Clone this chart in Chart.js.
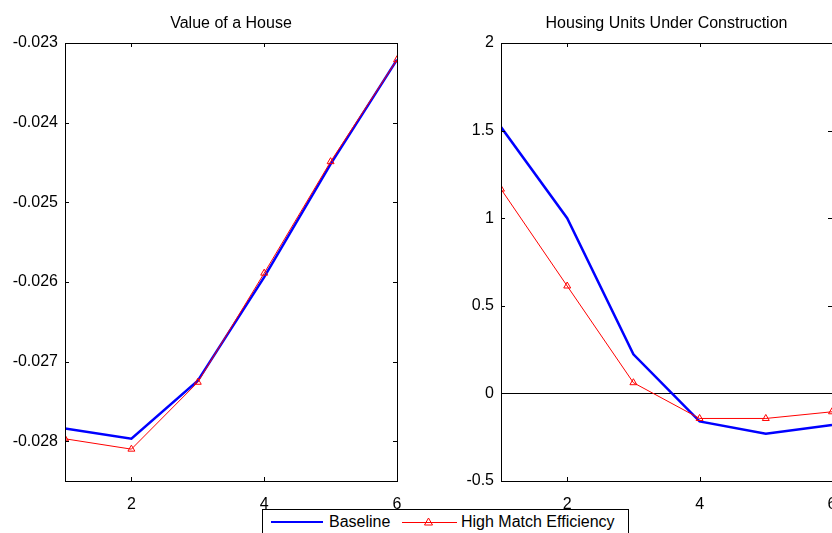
<!DOCTYPE html>
<html>
<head>
<meta charset="utf-8">
<script src="https://cdn.jsdelivr.net/npm/chart.js@4"></script>
<style>
html, body { margin: 0; padding: 0; background: #fff; width: 832px; height: 533px; overflow: hidden; position: relative; font-family: "Liberation Sans", Arial, sans-serif; }
#houseChart { position: absolute; left: 0; top: 0; }
#unitsChart { position: absolute; left: 430px; top: 0; }
#legend { position: absolute; left: 262px; top: 509px; width: 365px; height: 40px; border: 1px solid #000; background: #fff; font-size: 16px; color: #000; }
#legend svg, #legend span { position: absolute; }
#legend span { line-height: 20px; top: 2px; white-space: nowrap; }
</style>
</head>
<body>
<canvas id="houseChart" width="462" height="533"></canvas>
<canvas id="unitsChart" width="472" height="533"></canvas>
<div id="legend">
    <svg style="left:8px; top:7px" width="52" height="10"><line x1="0" y1="5" x2="52" y2="5" stroke="#0000ff" stroke-width="2"/></svg>
    <span style="left:66px">Baseline</span>
    <svg style="left:139px; top:5px" width="55" height="14"><line x1="0" y1="7.5" x2="55" y2="7.5" stroke="#ff0000" stroke-width="1"/><polygon points="26.5,3 30.5,10 22.5,10" fill="none" stroke="#ff0000" stroke-width="1"/></svg>
    <span style="left:198px">High Match Efficiency</span>
</div>
<script>
// periods after the shock
const periods = [1, 2, 3, 4, 5, 6];
const xTicks = [2, 4, 6];

// Value of a House
const houseBaseline = [-0.02784, -0.02797, -0.02724, -0.02594, -0.02452, -0.02321];
const houseHighMatch = [-0.02797, -0.02810, -0.02726, -0.02589, -0.02449, -0.02321];
const houseTicks = [-0.028, -0.027, -0.026, -0.025, -0.024, -0.023];

// Housing Units Under Construction
const unitsBaseline = [1.52, 1.00, 0.223, -0.16, -0.23, -0.18];
const unitsHighMatch = [1.166, 0.613, 0.061, -0.143, -0.143, -0.105];
const unitsTicks = [-0.5, 0, 0.5, 1, 1.5, 2];

Chart.defaults.font.family = '"Liberation Sans", Arial, sans-serif';
Chart.defaults.font.size = 16;
Chart.defaults.color = '#000';

const toPoints = (vals) => vals.map((v, i) => ({ x: periods[i], y: v }));

// matlab style box with inward ticks on all four sides, title centred over the axes
const boxTicks = {
    id: 'boxTicks',
    afterDraw(chart, args, opts) {
        const { ctx, chartArea: a, scales: { x, y } } = chart;
        const len = 4;
        ctx.save();
        ctx.strokeStyle = '#000';
        ctx.lineWidth = 1;
        ctx.beginPath();
        x.ticks.forEach((t) => {
            const px = Math.round(x.getPixelForValue(t.value)) + 0.5;
            ctx.moveTo(px, a.bottom); ctx.lineTo(px, a.bottom - len);
            ctx.moveTo(px, a.top); ctx.lineTo(px, a.top + len);
        });
        y.ticks.forEach((t) => {
            const py = Math.round(y.getPixelForValue(t.value)) + 0.5;
            ctx.moveTo(a.left, py); ctx.lineTo(a.left + len, py);
            ctx.moveTo(a.right, py); ctx.lineTo(a.right - len, py);
        });
        ctx.stroke();
        ctx.strokeRect(Math.round(a.left) + 0.5, Math.round(a.top) + 0.5,
            Math.round(a.right - a.left), Math.round(a.bottom - a.top));

        ctx.fillStyle = '#000';
        ctx.font = '16px "Liberation Sans", Arial, sans-serif';
        ctx.textAlign = 'center';
        ctx.textBaseline = 'middle';
        ctx.fillText(opts.text, (a.left + a.right) / 2, a.top - 19);
        ctx.restore();
    }
};

function makeChart(canvasId, title, baseline, highMatch, yMin, yMax, yTicks, yWidth, padRight, fmt, zeroLine) {
    return new Chart(document.getElementById(canvasId), {
        type: 'line',
        data: {
            datasets: [
                {
                    label: 'High Match Efficiency',
                    data: toPoints(highMatch),
                    borderColor: '#ff0000',
                    borderWidth: 1,
                    pointStyle: 'triangle',
                    pointRadius: 4,
                    pointBorderColor: '#ff0000',
                    pointBackgroundColor: 'rgba(0,0,0,0)',
                    pointBorderWidth: 1,
                    tension: 0,
                    order: 0
                },
                {
                    label: 'Baseline',
                    data: toPoints(baseline),
                    borderColor: '#0000ff',
                    borderWidth: 2.5,
                    pointRadius: 0,
                    tension: 0,
                    order: 1
                }
            ]
        },
        options: {
            responsive: false,
            animation: false,
            layout: { padding: { left: 0, right: padRight, top: 43, bottom: 0 } },
            plugins: {
                legend: { display: false },
                tooltip: { enabled: false },
                title: { display: false },
                boxTicks: { text: title }
            },
            scales: {
                x: {
                    type: 'linear',
                    min: 1,
                    max: 6,
                    afterBuildTicks: (s) => { s.ticks = xTicks.map((v) => ({ value: v })); },
                    afterFit: (s) => { s.height = 52; },
                    ticks: { padding: 6, maxRotation: 0, autoSkip: false },
                    grid: { display: false },
                    border: { display: false }
                },
                y: {
                    type: 'linear',
                    min: yMin,
                    max: yMax,
                    afterBuildTicks: (s) => { s.ticks = yTicks.map((v) => ({ value: v })); },
                    afterFit: (s) => { s.width = yWidth; },
                    ticks: { padding: 7, callback: fmt, autoSkip: false },
                    grid: {
                        display: zeroLine,
                        drawTicks: false,
                        color: (c) => (c.tick && c.tick.value === 0 ? '#000' : 'rgba(0,0,0,0)'),
                        lineWidth: 1
                    },
                    border: { display: false }
                }
            }
        },
        plugins: [boxTicks]
    });
}

makeChart('houseChart', 'Value of a House', houseBaseline, houseHighMatch,
    -0.0285, -0.023, houseTicks, 65, 65, (v) => v.toFixed(3), false);

makeChart('unitsChart', 'Housing Units Under Construction', unitsBaseline, unitsHighMatch,
    -0.5, 2, unitsTicks, 71, 70, (v) => String(v), true);
</script>
</body>
</html>
